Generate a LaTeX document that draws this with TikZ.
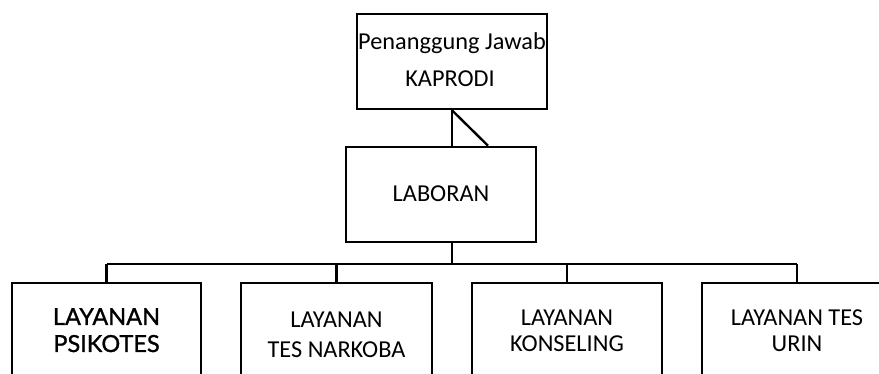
\documentclass[tikz,border=0pt]{standalone}
\usepackage{fontspec}
\setmainfont{Carlito}
\newfontfamily\gillfont[FakeBold=1.2]{Lato}
\usetikzlibrary{calc}
\begin{document}
\begin{tikzpicture}[x=1pt,y=-1pt,
  box/.style={draw=black,line width=2.6pt,rectangle,minimum width=190pt,inner sep=0pt},
  conn/.style={draw=black,line width=2.4pt},
  txt/.style={anchor=base,inner sep=0pt,font=\fontsize{24.3}{29}\selectfont}]
\useasboundingbox (0,0) rectangle (879,374);
\clip (0,0) rectangle (879,374);
\node[box,minimum height=95pt] (top) at (452,61.5) {};
\node[box,minimum height=95pt] (lab) at (441,194.5) {};
\node[box,minimum height=140pt,minimum width=189pt] (b1) at (106.5,353) {};
\node[box,minimum height=140pt,minimum width=191pt] (b2) at (336.5,353) {};
\node[box,minimum height=140pt,minimum width=190pt] (b3) at (567,353) {};
\node[box,minimum height=140pt,minimum width=190pt] (b4) at (797,353) {};
\coordinate (labtopright) at ($(lab.north)+(47,0)$);
\coordinate (busc) at (452,264);
\draw[conn] (top.south -| busc) -- (lab.north -| busc);
\draw[conn] (top.south -| busc) -- (labtopright);
\draw[conn] (lab.south -| busc) -- (busc);
\draw[conn] (b1.north |- busc) -- (b4.north |- busc);
\draw[conn] (b1.north |- busc) -- (b1.north);
\draw[conn] (b2.north |- busc) -- (b2.north);
\draw[conn] (b3.north |- busc) -- (b3.north);
\draw[conn] (b4.north |- busc) -- (b4.north);
\node[txt] (t1) at (452,50) {Penanggung Jawab};
\node[txt] (t2) at (450,87) {KAPRODI};
\node[txt] (t3) at (441,201.5) {LABORAN};
\node[txt,font=\gillfont\fontsize{23.5}{28}\selectfont] (t4) at (106.5,325) {LAYANAN};
\node[txt,font=\gillfont\fontsize{23.5}{28}\selectfont] (t5) at (106.5,352) {PSIKOTES};
\node[txt] (t6) at (336.5,328) {LAYANAN};
\node[txt] (t7) at (336.5,357) {TES NARKOBA};
\node[txt] (t8) at (567,326) {LAYANAN};
\node[txt] (t9) at (567,352) {KONSELING};
\node[txt] (t10) at (797,326) {LAYANAN TES};
\node[txt] (t11) at (797,352) {URIN};
\end{tikzpicture}
\end{document}
